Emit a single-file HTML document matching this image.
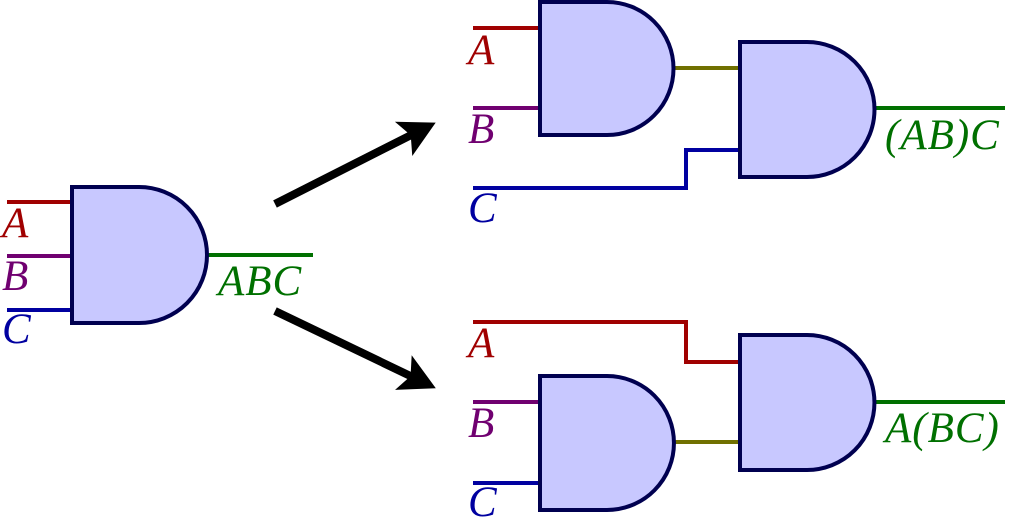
<!DOCTYPE html>
<html><head><meta charset="utf-8"><style>html,body{margin:0;padding:0;background:#fff}</style></head>
<body>
<svg width="1009" height="519" viewBox="0 0 1009 519" xmlns="http://www.w3.org/2000/svg" font-family="Liberation Serif, serif" font-style="italic" font-size="43" letter-spacing="1">
<defs>
<marker id="ah" markerWidth="6" markerHeight="6" refX="3" refY="3" orient="auto" markerUnits="strokeWidth">
<path d="M0,0.6 L4.5,3 L0,5.4 L1,3 Z" fill="#000"/>
</marker>
</defs>
<g stroke-width="4" fill="none">
<line x1="7" y1="202" x2="72" y2="202" stroke="#a00000"/>
<line x1="7" y1="256" x2="72" y2="256" stroke="#700070"/>
<line x1="7" y1="310" x2="72" y2="310" stroke="#0000a0"/>
<line x1="207" y1="255" x2="313" y2="255" stroke="#007000"/>
<line x1="473" y1="28" x2="540" y2="28" stroke="#a00000"/>
<line x1="473" y1="108" x2="540" y2="108" stroke="#700070"/>
<line x1="673" y1="68" x2="740" y2="68" stroke="#707000"/>
<polyline points="473,188 686,188 686,150 740,150" stroke="#0000a0"/>
<line x1="874" y1="108" x2="1005" y2="108" stroke="#007000"/>
<polyline points="473,322 686,322 686,362 740,362" stroke="#a00000"/>
<line x1="473" y1="402" x2="540" y2="402" stroke="#700070"/>
<line x1="473" y1="483" x2="540" y2="483" stroke="#0000a0"/>
<line x1="673" y1="442" x2="740" y2="442" stroke="#707000"/>
<line x1="874" y1="402" x2="1005" y2="402" stroke="#007000"/>
</g>
<g fill="#c8c8ff" stroke="#000050" stroke-width="4">
<path d="M72,187 H139 A68,68 0 0 1 139,323 H72 Z"/>
<path d="M540,2 H607 A66.5,66.5 0 0 1 607,135 H540 Z"/>
<path d="M740,42 H807 A67.5,67.5 0 0 1 807,177 H740 Z"/>
<path d="M540,376 H607 A67,67 0 0 1 607,510 H540 Z"/>
<path d="M740,335 H807 A67.5,67.5 0 0 1 807,470 H740 Z"/>
</g>
<g stroke="#000" stroke-width="8" fill="none">
<line x1="275" y1="204" x2="425" y2="128" marker-end="url(#ah)"/>
<line x1="275" y1="311" x2="425" y2="383" marker-end="url(#ah)"/>
</g>
<g>
<text x="2" y="237" fill="#a00000">A</text>
<text x="2" y="290" fill="#700070">B</text>
<text x="2" y="343" fill="#0000a0">C</text>
<text x="218" y="295" fill="#007000">ABC</text>
<text x="468" y="64" fill="#a00000">A</text>
<text x="468" y="143" fill="#700070">B</text>
<text x="468" y="222" fill="#0000a0">C</text>
<text x="885" y="149" fill="#007000">(AB)C</text>
<text x="468" y="357" fill="#a00000">A</text>
<text x="468" y="437" fill="#700070">B</text>
<text x="468" y="516" fill="#0000a0">C</text>
<text x="885" y="442" fill="#007000">A(BC)</text>
</g>
</svg>
</body></html>
